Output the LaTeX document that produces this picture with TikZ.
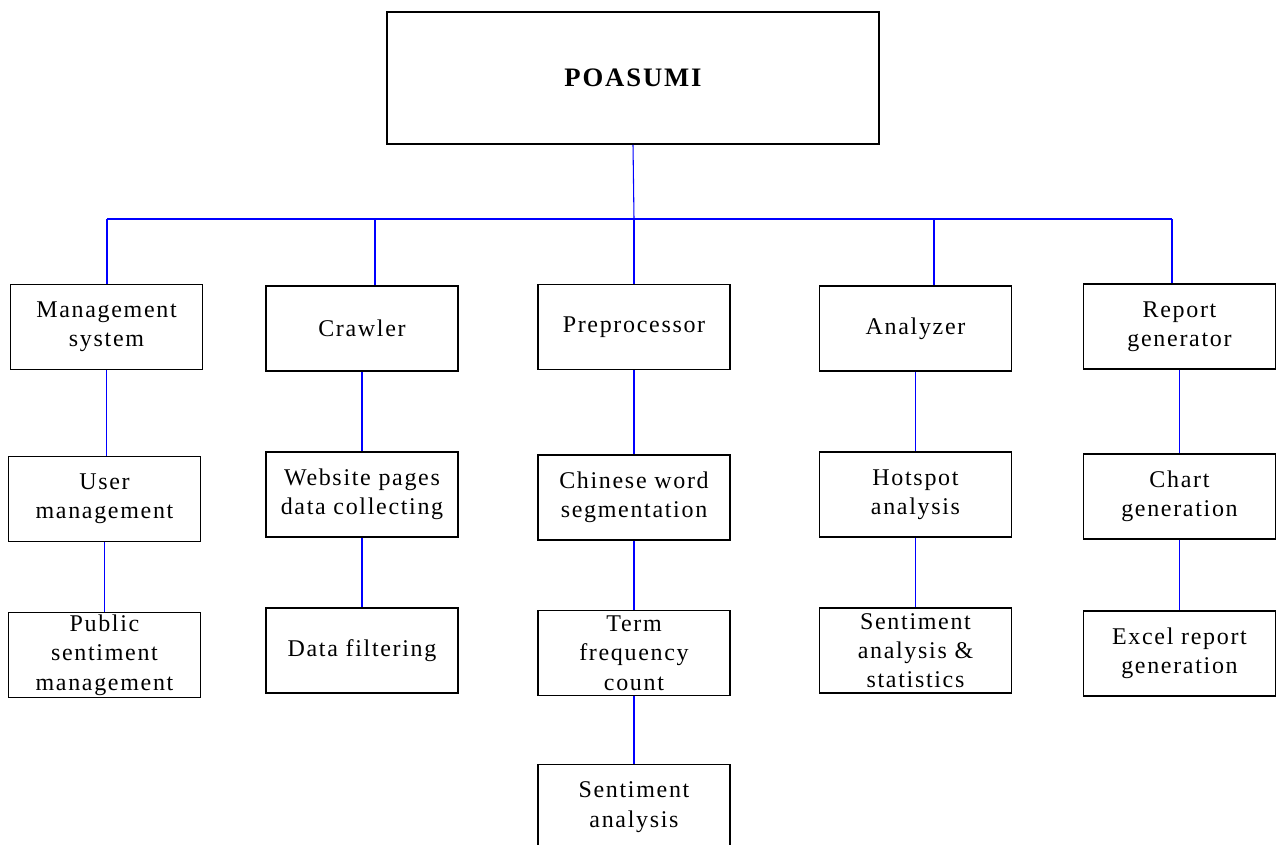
\documentclass[tikz,border=0pt]{standalone}
\usepackage{fontspec}
\setmainfont{Liberation Serif}[LetterSpace=7]
\begin{document}
\begin{tikzpicture}[x=0.75pt, y=-0.75pt, font=\fontsize{18}{22}\selectfont,
  box/.style={draw, line width=1.2pt, align=center, inner sep=0pt,
    minimum width=144pt, minimum height=63.75pt},
  link/.style={draw=blue, line width=0.8pt}]
  \useasboundingbox (0,0) rectangle (1277,844);
  % top
  \node[box, minimum width=369pt, minimum height=99pt, font=\fontsize{20}{24}\selectfont\bfseries] (root) at (633,78) {POASUMI};
  % first row
  \node[box] (mgmt) at (106.5,327) {Management\\system};
  \node[box] (crawler) at (362,328.5) {Crawler};
  \node[box] (prep) at (634,327) {Preprocessor};
  \node[box] (analyzer) at (915.5,328.5) {Analyzer};
  \node[box] (report) at (1179.5,326.5) {Report\\generator};
  % second row
  \node[box] (user) at (104.5,499) {User\\management};
  \node[box] (website) at (362,494.5) {Website pages\\data collecting};
  \node[box] (chinese) at (634,497.5) {Chinese word\\segmentation};
  \node[box] (hotspot) at (915.5,494.5) {Hotspot\\analysis};
  \node[box] (chart) at (1179.5,496.5) {Chart\\generation};
  % third row
  \node[box] (public) at (104.5,655) {Public\\sentiment\\management};
  \node[box] (filter) at (362,650.5) {Data filtering};
  \node[box] (term) at (634,653) {Term\\frequency\\count};
  \node[box] (sentstat) at (915.5,650.5) {Sentiment\\analysis \&\\statistics};
  \node[box] (excel) at (1179.5,653.5) {Excel report\\generation};
  % fourth row
  \node[box] (senti) at (634,807) {Sentiment\\analysis};
  % bus
  \foreach \n/\x in {mgmt/107, crawler/375, prep/634, analyzer/934, report/1172}
    \coordinate (bus\n) at (\x,219);
  \draw[link] (busmgmt) -- (busreport);
  \draw[link] (root.south) -- (busprep);
  \draw[blue, line width=1.6pt] (busprep) -- ++(20,0);
  \foreach \n in {mgmt, crawler, prep, analyzer, report}
    \draw[link] (bus\n) -- (bus\n |- \n.north);
  \foreach \a/\b in {mgmt/user, user/public, crawler/website, website/filter,
      prep/chinese, chinese/term, term/senti, analyzer/hotspot,
      hotspot/sentstat, report/chart, chart/excel}
    \draw[link] (\a.south) -- (\a.south |- \b.north);
\end{tikzpicture}
\end{document}
